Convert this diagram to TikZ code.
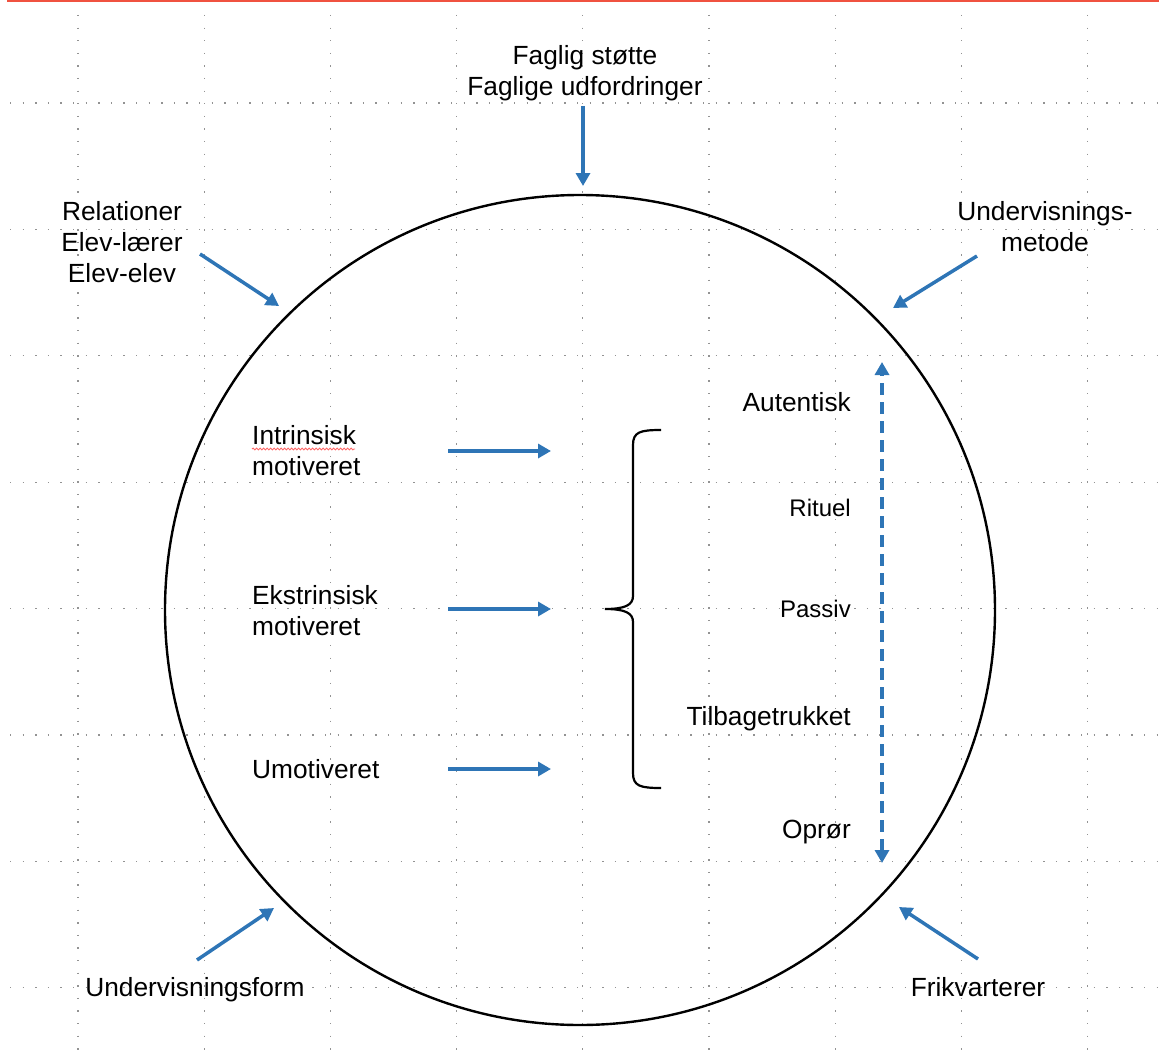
\documentclass[tikz,border=0pt]{standalone}
\usepackage{fontspec}
\setmainfont{Liberation Sans}
\usetikzlibrary{
    arrows.meta,
    positioning,
    decorations.pathmorphing
}
\definecolor{slideblue}{RGB}{46,117,182}
\definecolor{slidered}{RGB}{240,82,64}
\tikzset{
    % Colors
    nice blue/.style={slideblue},
    top bar/.style={fill=slidered},
    %
    % Background grid
    grid dots/.style={gray!85, line width=1.3pt, dash pattern=on 1.3pt off 11.3pt},
    %
    % Shapes
    ring/.style={black, line width=2.4pt},
    brace line/.style={black, line width=2.2pt},
    spell mark/.style={red!60, line width=.9pt, decorate, decoration={snake, amplitude=.9pt, segment length=3.5pt}},
    %
    % Arrows
    arrow tip/.tip={Triangle[length=13pt,width=14pt]},
    arr/.style={-{arrow tip}, nice blue, line width=3.5pt},
    darr/.style={{arrow tip}-{arrow tip}, nice blue, line width=3.5pt, dash pattern=on 12pt off 7pt},
    %
    % Labels
    big label/.style={font=\fontsize{26.3}{31}\selectfont, inner sep=0pt, align=center},
    left label/.style={big label, align=left, anchor=west},
    small label/.style={font=\fontsize{24}{28}\selectfont, inner sep=0pt}
}

\begin{document}
\begin{tikzpicture}[x=1pt,y=-1pt]
    \useasboundingbox (0,0) rectangle (1159,1054);
    \fill[top bar] (7,0) rectangle (1159,2.5);
    % grid
    \foreach \k in {0,...,8}{
        \draw[grid dots] ({78+126.2*\k},15) -- ({78+126.2*\k},1054);
    }
    \foreach \k in {0,...,7}{
        \draw[grid dots] (10,{103+126.4*\k}) -- (1159,{103+126.4*\k});
    }
    % the ring
    \coordinate (ctr) at (580,610);
    \draw[ring] (ctr) circle[radius=415];
    % outside influences
    \node[big label] (faglig) at (585,73) {Faglig støtte\\Faglige udfordringer};
    \node[big label] (relation) at (122,242) {Relationer\\Elev-lærer\\Elev-elev};
    \node[big label] (metode) at (1045,227) {Undervisnings-\\metode};
    \node[big label, anchor=base] (form) at (195,996) {Undervisningsform};
    \node[big label, anchor=base] (frikv) at (978,996) {Frikvarterer};
    \coordinate (faglig in) at (583,106);   \coordinate (faglig out) at (583,186);
    \coordinate (relation in) at (200,254); \coordinate (relation out) at (279,306);
    \coordinate (metode in) at (977,256);   \coordinate (metode out) at (893,308);
    \coordinate (form in) at (197,960);     \coordinate (form out) at (274,908);
    \coordinate (frikv in) at (978,959);    \coordinate (frikv out) at (899,907);
    \draw[arr] (faglig in) -- (faglig out);
    \draw[arr] (relation in) -- (relation out);
    \draw[arr] (metode in) -- (metode out);
    \draw[arr] (form in) -- (form out);
    \draw[arr] (frikv in) -- (frikv out);
    % motivation
    \node[left label] (intr) at (252,450.5) {Intrinsisk\\motiveret};
    \node[left label] (ekstr) at (252,610.5) {Ekstrinsisk\\motiveret};
    \node[left label, anchor=base west] (umot) at (252,778) {Umotiveret};
    \draw[spell mark] (252,449) -- (355,449);
    \foreach \n/\y in {intr/451,ekstr/609,umot/769}{
        \coordinate (\n a) at (448,\y);
        \coordinate (\n b) at (551,\y);
        \draw[arr] (\n a) -- (\n b);
    }
    % brace
    \draw[brace line] (661,430) .. controls (640,430) and (633,432) .. (633,445) -- (633,596)
        .. controls (633,605) and (625,609) .. (605,609) .. controls (625,609) and (633,613) .. (633,622)
        -- (633,773) .. controls (633,786) and (640,788) .. (661,788);
    % engagement scale
    \node[big label, anchor=base east] (aut) at (851,411) {Autentisk};
    \node[small label, anchor=base east] (rit) at (851,516) {Rituel};
    \node[small label, anchor=base east] (pas) at (851,617) {Passiv};
    \node[big label, anchor=base east] (tilb) at (851,725) {Tilbagetrukket};
    \node[big label, anchor=base east] (opr) at (851,838) {Oprør};
    \coordinate (scale top) at (882,362);
    \coordinate (scale bottom) at (882,863);
    \draw[darr] (scale bottom) -- (scale top);
\end{tikzpicture}
\end{document}
